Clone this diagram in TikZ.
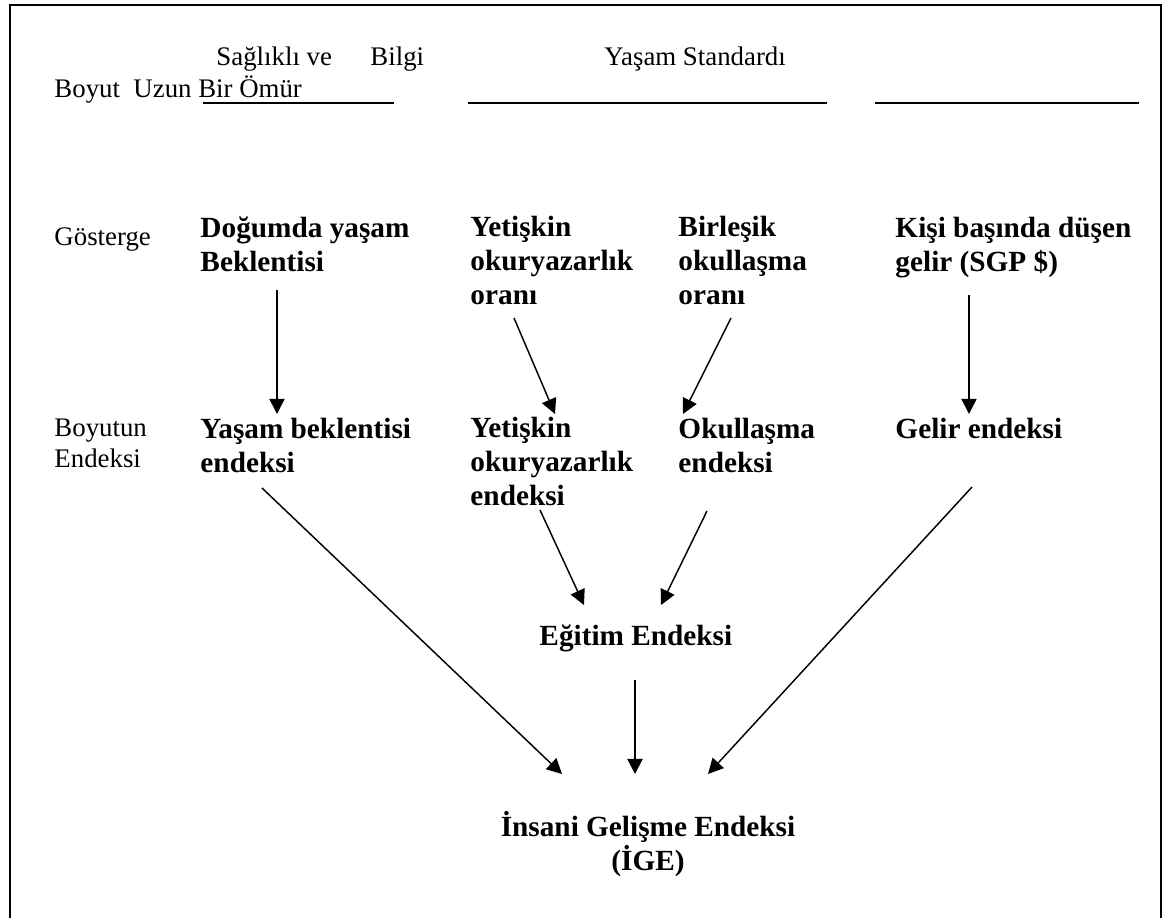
\documentclass[tikz,border=0pt]{standalone}
\usepackage{fontspec}
\setmainfont{Liberation Serif}
\usetikzlibrary{arrows.meta,positioning}

\begin{document}
\begin{tikzpicture}[x=0.41pt,y=-0.41pt,
  lbl/.style={anchor=base west,inner sep=0pt,align=left,font=\fontsize{11}{12.65}\selectfont},
  ind/.style={anchor=base west,inner sep=0pt,align=left,font=\fontsize{12}{13.8}\selectfont\bfseries},
  arr/.style={line width=0.6pt,-{Triangle[length=6.2pt,width=6.2pt]}},
  rule/.style={line width=1pt}]
  \useasboundingbox (0,0) rectangle (1166,918);
  \draw[line width=0.8pt] (10,918) -- (10,5) -- (1161,5) -- (1161,918);

  \node[lbl] (saglik) at (216,65) {Sağlıklı ve};
  \node[lbl] (bilgi) at (370,65) {Bilgi};
  \node[lbl] (standart) at (604,65) {Yaşam Standardı};
  \node[lbl] (boyut) at (54,97) {Boyut~~Uzun Bir Ömür};
  \draw[rule] (203,103) -- (394,103);
  \draw[rule] (468,103) -- (827,103);
  \draw[rule] (875,103) -- (1139,103);

  \node[lbl] (gosterge) at (54,245) {Gösterge};
  \node[ind] (dogum) at (200,271) {Doğumda yaşam\\Beklentisi};
  \node[ind] (yetoran) at (470,304) {Yetişkin\\okuryazarlık\\oranı};
  \node[ind] (biroran) at (678,304) {Birleşik\\okullaşma\\oranı};
  \node[ind] (gelir) at (895,271) {Kişi başında düşen\\gelir (SGP \$)};

  \node[lbl] (boyutun) at (54,467) {Boyutun\\Endeksi};
  \node[ind] (yasamend) at (200,472) {Yaşam beklentisi\\endeksi};
  \node[ind] (yetend) at (470,505) {Yetişkin\\okuryazarlık\\endeksi};
  \node[ind] (okulend) at (678,472) {Okullaşma\\endeksi};
  \node[ind] (gelirend) at (895,438) {Gelir endeksi};

  \node[ind] (egitim) at (539,645) {Eğitim Endeksi};
  \node[ind,anchor=base,align=center] (ige) at (648,870) {İnsani Gelişme Endeksi\\(İGE)};

  \draw[arr] ([shift={(77,19)}]dogum.base west) -- ([shift={(77,-58)}]yasamend.base west);
  \draw[arr] ([shift={(44,14)}]yetoran.base west) -- ([shift={(85,-91)}]yetend.base west);
  \draw[arr] ([shift={(53,14)}]biroran.base west) -- ([shift={(5,-58)}]okulend.base west);
  \draw[arr] ([shift={(74,24)}]gelir.base west) -- ([shift={(74,-24)}]gelirend.base west);
  \draw[arr] ([shift={(62,16)}]yasamend.base west) -- ([shift={(-86,-96)}]ige.base);
  \draw[arr] ([shift={(70,5)}]yetend.base west) -- ([shift={(45,-40)}]egitim.base west);
  \draw[arr] ([shift={(29,39)}]okulend.base west) -- ([shift={(122,-40)}]egitim.base west);
  \draw[arr] ([shift={(77,49)}]gelirend.base west) -- ([shift={(60,-96)}]ige.base);
  \draw[arr,line width=0.8pt] ([shift={(96,35)}]egitim.base west) -- ([shift={(-13,-96)}]ige.base);
\end{tikzpicture}
\end{document}
